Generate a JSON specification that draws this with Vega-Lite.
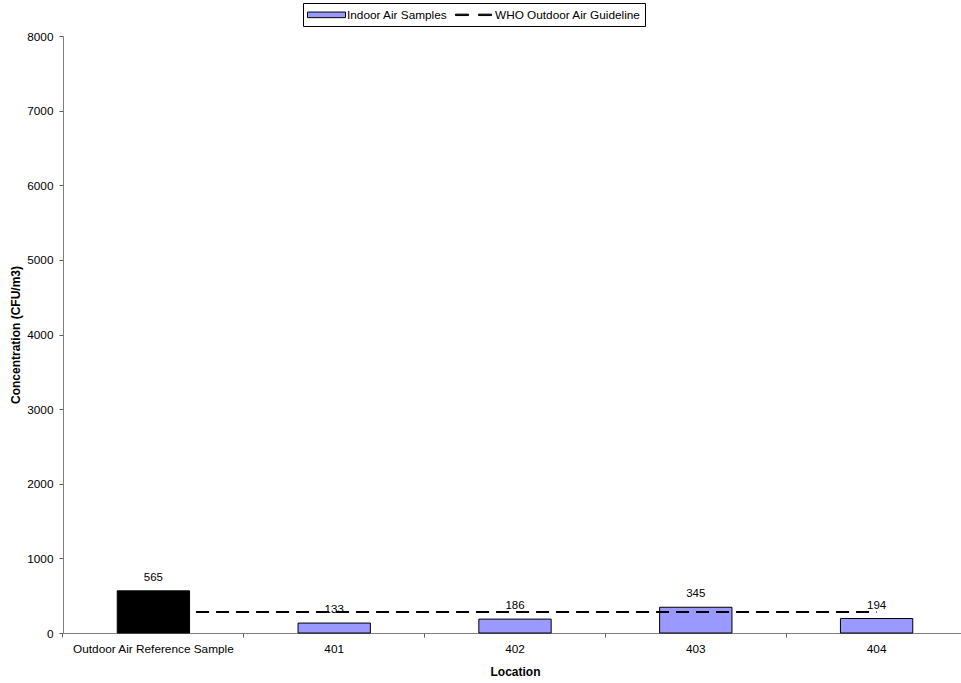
{
  "$schema": "https://vega.github.io/schema/vega-lite/v6.json",
  "width": 898,
  "height": 597,
  "autosize": {"type": "none"},
  "padding": {"left": 63, "top": 36, "right": 0, "bottom": 50},
  "background": "white",
  "config": {
    "view": {"stroke": null},
    "font": "Liberation Sans",
    "axis": {"labelFont": "Liberation Sans", "titleFont": "Liberation Sans", "labelFontSize": 11.8, "titleFontSize": 12, "titleFontWeight": "bold", "labelColor": "black", "titleColor": "black", "domainColor": "#808080", "tickColor": "#606060", "grid": false, "ticks": true},
    "legend": {
      "orient": "none",
      "legendX": 240,
      "legendY": -33,
      "direction": "horizontal",
      "columns": 2,
      "padding": 4,
      "strokeColor": "black",
      "fillColor": "white",
      "symbolSize": 196,
      "symbolOpacity": 1,
      "symbolStrokeColor": "black",
      "symbolStrokeWidth": 1,
      "labelOffset": 25,
      "columnPadding": 5,
      "labelFont": "Liberation Sans",
      "labelFontSize": 11.8,
      "labelColor": "black"
    }
  },
  "datasets": {
    "samples": [
      {"location": "Outdoor Air Reference Sample", "concentration": 565, "series": "Indoor Air Samples"},
      {"location": "401", "concentration": 133, "series": "Indoor Air Samples"},
      {"location": "402", "concentration": 186, "series": "Indoor Air Samples"},
      {"location": "403", "concentration": 345, "series": "Indoor Air Samples"},
      {"location": "404", "concentration": 194, "series": "Indoor Air Samples"}
    ],
    "guideline": [
      {"from": "Outdoor Air Reference Sample", "to": "404", "value": 280, "series": "WHO Outdoor Air Guideline"}
    ]
  },
  "layer": [
    {
      "data": {"name": "samples"},
      "mark": {"type": "bar", "stroke": "black", "strokeWidth": 1},
      "encoding": {
        "x": {
          "field": "location", "type": "nominal", "title": "Location",
          "scale": {"domain": ["Outdoor Air Reference Sample", "401", "402", "403", "404"], "range": [0, 904], "paddingInner": 0.6, "paddingOuter": 0.3},
          "axis": {"labelAngle": 0, "bandPosition": -0.75, "ticks": true, "tickSize": 4, "tickColor": "#606060", "labelPadding": 6, "titlePadding": 12}
        },
        "y": {
          "field": "concentration", "type": "quantitative", "title": "Concentration (CFU/m3)",
          "scale": {"domain": [0, 8000], "nice": false},
          "axis": {"values": [0, 1000, 2000, 3000, 4000, 5000, 6000, 7000, 8000], "tickSize": 4, "labelPadding": 6, "titlePadding": 4, "format": "d"}
        },
        "fill": {
          "condition": {"test": "datum.location === 'Outdoor Air Reference Sample'", "value": "black"},
          "field": "series", "type": "nominal",
          "scale": {"domain": ["Indoor Air Samples", "WHO Outdoor Air Guideline"], "range": ["#9999FF", "black"]},
          "legend": {"title": null}
        }
      }
    },
    {
      "data": {"name": "samples"},
      "mark": {"type": "point", "filled": true, "opacity": 0, "strokeWidth": 1, "size": 196},
      "encoding": {
        "x": {"field": "location", "type": "nominal"},
        "y": {"field": "concentration", "type": "quantitative"},
        "fill": {"field": "series", "type": "nominal", "legend": {"title": null}},
        "stroke": {
          "field": "series", "type": "nominal",
          "scale": {"domain": ["Indoor Air Samples", "WHO Outdoor Air Guideline"], "range": ["black", "black"]},
          "legend": {"title": null}
        },
        "shape": {
          "field": "series", "type": "nominal",
          "scale": {"domain": ["Indoor Air Samples", "WHO Outdoor Air Guideline"], "range": ["M-1,-0.4H4.43V0.4H-1Z", "M-1,-0.1H0.86V0.1H-1ZM2.29,-0.1H4.14V0.1H2.29Z"]},
          "legend": {"title": null}
        }
      }
    },
    {
      "data": {"name": "samples"},
      "mark": {"type": "text", "baseline": "alphabetic", "dy": -10, "fontSize": 11.5, "font": "Liberation Sans", "color": "black"},
      "encoding": {
        "x": {"field": "location", "type": "nominal"},
        "y": {"field": "concentration", "type": "quantitative"},
        "text": {"field": "concentration", "type": "quantitative"}
      }
    },
    {
      "data": {"name": "guideline"},
      "mark": {"type": "rule", "stroke": "black", "strokeWidth": 2, "strokeDash": [13, 7]},
      "encoding": {
        "x": {"field": "from", "type": "nominal", "bandPosition": 1.09},
        "x2": {"field": "to", "bandPosition": 0.5},
        "y": {"field": "value", "type": "quantitative"}
      }
    }
  ]
}
